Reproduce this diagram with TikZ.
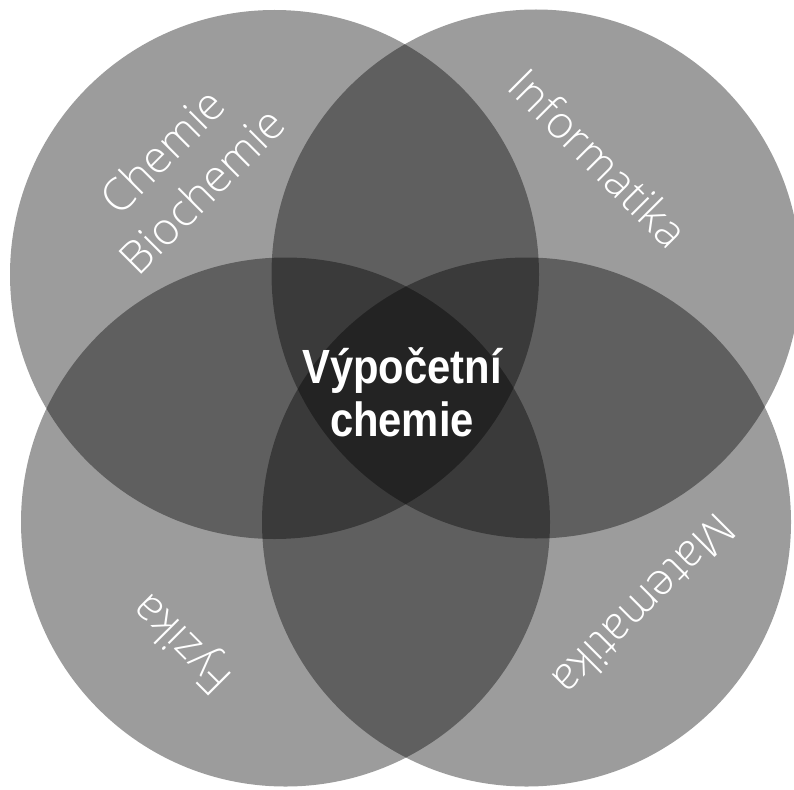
\documentclass[tikz,border=0pt]{standalone}
\usepackage{fontspec}
\setmainfont{Liberation Sans}
\newfontfamily\lightfont{Open Sans Light}
\newfontfamily\corefont{Liberation Sans Bold}[FakeStretch=0.87]
\begin{document}
\begin{tikzpicture}[x=1pt,y=-1pt,
  venn/.style={circle,minimum size=529pt,inner sep=0pt,fill=black,fill opacity=0.39,draw=none},
  field/.style={text=white,font=\lightfont\fontsize{45}{56}\selectfont,align=center,inner sep=0pt},
  core/.style={text=white,font=\corefont\fontsize{48}{53}\selectfont,align=center,inner sep=0pt}]
  \useasboundingbox (0,0) rectangle (794,789);
  \clip (0,0) rectangle (794,789);
  % four overlapping disciplines
  \node[venn] (chem) at (274.5,274.5) {};
  \node[venn] (info) at (536,274) {};
  \node[venn] (fyz)  at (285.5,522) {};
  \node[venn] (mat)  at (526.5,522) {};
  % discipline labels
  \node[field,rotate=45]   (lchem) at (181.5,170.5) {Chemie\\Biochemie};
  \node[field,rotate=-45]  (linfo) at (599,158) {Informatika};
  \node[field,rotate=135]  (lfyz)  at (184,642) {Fyzika};
  \node[field,rotate=-135] (lmat)  at (645,606) {Matematika};
  % common intersection
  \node[core] (center) at (402,392) {Výpočetní\\chemie};
\end{tikzpicture}
\end{document}
